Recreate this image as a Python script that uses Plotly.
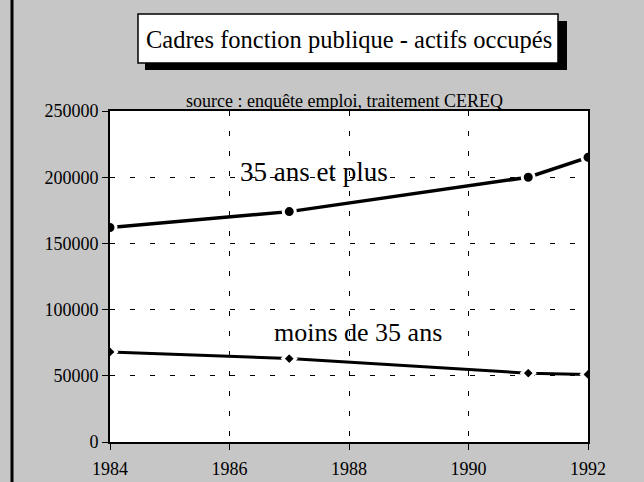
import plotly.graph_objects as go

years = [1984, 1987, 1991, 1992]
plus35 = [162000, 174000, 200000, 215000]
moins35 = [68000, 63000, 52000, 51000]
x_ticks = [1984, 1986, 1988, 1990, 1992]
y_ticks = [0, 50000, 100000, 150000, 200000, 250000]

title_text = "Cadres fonction publique - actifs occupés"
source_text = "source : enquête emploi, traitement CEREQ"
label_plus = "35 ans et plus"
label_moins = "moins de 35 ans"

W, H = 644, 482
L, R, T, B = 110, 56, 111, 40
pw, ph = W - L - R, H - T - B

def px(x):
    return (x - L) / pw

def py(y):
    return (H - B - y) / ph

serif = "Liberation Serif, Times New Roman, serif"

fig = go.Figure()
fig.add_trace(go.Scatter(
    x=years, y=plus35, mode="lines+markers",
    line=dict(color="black", width=3.5),
    marker=dict(symbol="circle", size=12, color="black",
                line=dict(color="white", width=3)),
    showlegend=False))
fig.add_trace(go.Scatter(
    x=years, y=moins35, mode="lines+markers",
    line=dict(color="black", width=3),
    marker=dict(symbol="diamond", size=10, color="black",
                line=dict(color="white", width=3)),
    showlegend=False))

axis_common = dict(
    showline=True, linecolor="black", linewidth=2, mirror=True,
    ticks="outside", ticklen=6, tickcolor="black", tickwidth=1,
    showgrid=True, gridcolor="black", gridwidth=1, griddash="5px,15px",
    zeroline=False, automargin=False,
    tickfont=dict(family=serif, size=18, color="black"),
)

fig.update_xaxes(range=[1984, 1992], tickvals=x_ticks,
                 ticktext=[str(v) for v in x_ticks],
                 ticklabelstandoff=3, **axis_common)
fig.update_yaxes(range=[0, 250000], tickvals=y_ticks,
                 ticktext=[str(v) for v in y_ticks], **axis_common)

# title box with shadow
fig.add_shape(type="rect", xref="paper", yref="paper",
              x0=px(145), x1=px(567), y0=py(70), y1=py(21),
              fillcolor="black", line=dict(width=0), layer="above")
fig.add_shape(type="rect", xref="paper", yref="paper",
              x0=px(138), x1=px(558), y0=py(63), y1=py(14),
              fillcolor="white", line=dict(color="black", width=1.5), layer="above")

fig.add_annotation(text=title_text, xref="paper", yref="paper",
                   x=px(349), y=py(39), showarrow=False,
                   font=dict(family=serif, size=24.5, color="black"),
                   xanchor="center", yanchor="middle")
fig.add_annotation(text=source_text, xref="paper", yref="paper",
                   x=px(344), y=py(101), showarrow=False,
                   font=dict(family=serif, size=18, color="black"),
                   xanchor="center", yanchor="middle")
fig.add_annotation(text=label_plus, x=1986.14, y=204000, showarrow=False,
                   font=dict(family=serif, size=27, color="black"),
                   xanchor="left", yanchor="middle")
fig.add_annotation(text=label_moins, x=1986.71, y=83000, showarrow=False,
                   font=dict(family=serif, size=26, color="black"),
                   xanchor="left", yanchor="middle")

# left frame line
fig.add_shape(type="line", xref="paper", yref="paper",
              x0=px(12), x1=px(12), y0=py(H), y1=py(0),
              line=dict(color="black", width=3))

fig.update_layout(
    width=W, height=H,
    margin=dict(l=L, r=R, t=T, b=B),
    paper_bgcolor="#c6c6c6",
    plot_bgcolor="white",
)

fig.write_html("out.html",
               config={"displayModeBar": False},
               post_script="document.body.style.margin='0';"
                           "document.body.style.overflow='hidden';")
